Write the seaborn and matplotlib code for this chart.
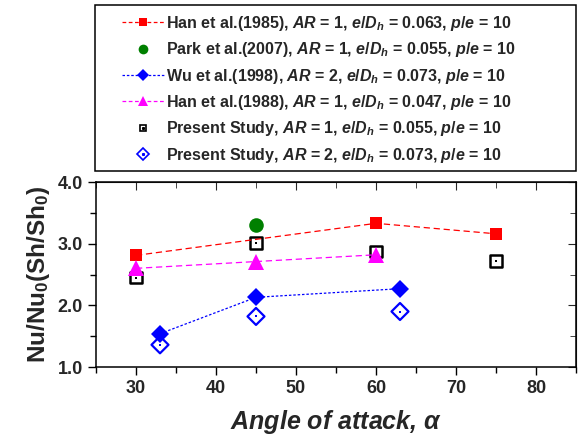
import numpy as np
import pandas as pd
import matplotlib
matplotlib.use("Agg")
import matplotlib.pyplot as plt
from matplotlib.lines import Line2D
from matplotlib.patches import Rectangle
from matplotlib.legend_handler import HandlerTuple
import seaborn as sns

# data
han85_x = [30, 60, 75]
han85_y = [2.81, 3.33, 3.16]
park_x = [45]
park_y = [3.30]
wu_x = [33, 45, 63]
wu_y = [1.54, 2.13, 2.27]
han88_x = [30, 45, 60]
han88_y = [2.60, 2.71, 2.82]
ps1_x = [30, 45, 60, 75]
ps1_y = [2.45, 3.01, 2.87, 2.72]
ps2_x = [33, 45, 63]
ps2_y = [1.36, 1.82, 1.90]

labels = [
    r"Han et al.(1985), $AR$ = 1, $e/D_h$ = 0.063, $p/e$ = 10",
    r"Park et al.(2007), $AR$ = 1, $e/D_h$ = 0.055, $p/e$ = 10",
    r"Wu et al.(1998), $AR$ = 2, $e/D_h$ = 0.073, $p/e$ = 10",
    r"Han et al.(1988), $AR$ = 1, $e/D_h$ = 0.047, $p/e$ = 10",
    r"Present Study, $AR$ = 1, $e/D_h$ = 0.055, $p/e$ = 10",
    r"Present Study, $AR$ = 2, $e/D_h$ = 0.073, $p/e$ = 10",
]

sns.set_style("ticks")
plt.rcParams["font.family"] = ["Liberation Sans", "DejaVu Sans"]
plt.rcParams["font.weight"] = "bold"
plt.rcParams["mathtext.fontset"] = "custom"
plt.rcParams["mathtext.rm"] = "Liberation Sans:bold"
plt.rcParams["mathtext.it"] = "Liberation Sans:bold:italic"
plt.rcParams["mathtext.bf"] = "Liberation Sans:bold"

fig = plt.figure(figsize=(5.79, 4.44), dpi=100)
ax = fig.add_axes([96 / 579, 1 - 367 / 444, 480 / 579, 185 / 444])

sns.lineplot(x=han85_x, y=han85_y, ax=ax, color="red", linestyle=(0, (5, 3)), lw=0.9,
             marker="s", markersize=9, markeredgewidth=0)
sns.lineplot(x=han88_x, y=han88_y, ax=ax, color="magenta", linestyle=(0, (5, 3)), lw=0.9,
             marker="^", markersize=11, markeredgewidth=0)
sns.lineplot(x=wu_x, y=wu_y, ax=ax, color="blue", linestyle=(0, (2, 1.5)), lw=0.9,
             marker="D", markersize=9, markeredgewidth=0)
sns.scatterplot(x=park_x, y=park_y, ax=ax, color="green", marker="o", s=110, linewidth=0)
sns.scatterplot(x=ps1_x, y=ps1_y, ax=ax, marker="s", s=70, facecolor="none",
                edgecolor="black", linewidth=1.8)
sns.scatterplot(x=ps1_x, y=ps1_y, ax=ax, marker="s", s=3, color="black", linewidth=0)
sns.scatterplot(x=ps2_x, y=ps2_y, ax=ax, marker="D", s=75, facecolor="none",
                edgecolor="blue", linewidth=1.6)
sns.scatterplot(x=ps2_x, y=ps2_y, ax=ax, marker="s", s=3, color="blue", linewidth=0)

ax.set_xlim(25, 85)
ax.set_ylim(1.0, 4.0)
ax.set_xticks(np.arange(30, 81, 10))
ax.set_xticks(np.arange(25, 86, 5), minor=True)
ax.set_yticks([1.0, 2.0, 3.0, 4.0])
ax.set_yticks(np.arange(1.0, 4.01, 0.5), minor=True)
ax.set_yticklabels(["1.0", "2.0", "3.0", "4.0"])
ax.tick_params(axis="both", which="both", direction="out", labelsize=13, width=1, color="black")
ax.tick_params(which="major", length=6)
ax.tick_params(which="minor", length=4)
for s in ax.spines.values():
    s.set_linewidth(1.1)
    s.set_color("black")

# mirrored ticks on top and right, pointing inward
axt = ax.secondary_xaxis("top")
axt.set_xticks(np.arange(30, 81, 10))
axt.set_xticks(np.arange(25, 86, 5), minor=True)
axt.tick_params(which="both", direction="in", labeltop=False)
axt.tick_params(which="major", length=6)
axt.tick_params(which="minor", length=4)
axr = ax.secondary_yaxis("right")
axr.set_yticks([1.0, 2.0, 3.0, 4.0])
axr.set_yticks(np.arange(1.0, 4.01, 0.5), minor=True)
axr.tick_params(which="both", direction="in", labelright=False)
axr.tick_params(which="major", length=6)
axr.tick_params(which="minor", length=4)

ax.set_xlabel(r"Angle of attack, $\alpha$", fontsize=18, fontweight="bold",
              fontstyle="italic", labelpad=8)
ax.set_ylabel(r"Nu/Nu$_0$(Sh/Sh$_0$)", fontsize=17.5, fontweight="bold", labelpad=4)

# legend above the axes
handles = [
    Line2D([], [], color="red", linestyle=(0, (3, 2)), lw=0.9, marker="s", markersize=6, markeredgewidth=0),
    Line2D([], [], color="green", linestyle="none", marker="o", markersize=7, markeredgewidth=0),
    Line2D([], [], color="blue", linestyle=(0, (2, 1.5)), lw=0.9, marker="D", markersize=6, markeredgewidth=0),
    Line2D([], [], color="magenta", linestyle=(0, (3, 2)), lw=0.9, marker="^", markersize=7, markeredgewidth=0),
    (Line2D([], [], color="black", linestyle="none", marker="s", markersize=5, markerfacecolor="none", markeredgewidth=1.2),
     Line2D([], [], color="black", linestyle="none", marker="s", markersize=1.2)),
    (Line2D([], [], color="blue", linestyle="none", marker="D", markersize=6, markerfacecolor="none", markeredgewidth=1.2),
     Line2D([], [], color="blue", linestyle="none", marker="s", markersize=1.2)),
]
fig.patches.append(Rectangle((95 / 579, 1 - 171 / 444), 481 / 579, 166 / 444,
                             transform=fig.transFigure, fill=False, edgecolor="black", lw=1.1))
fig.legend(handles, labels, loc="upper left", bbox_to_anchor=(122 / 579, 1 - 14 / 444),
           frameon=False, fontsize=11.5, handlelength=2.6, handletextpad=0.15,
           borderpad=0, borderaxespad=0, labelspacing=0.46,
           handler_map={tuple: HandlerTuple(ndivide=1, pad=0)})

fig.savefig("out.png", dpi=100)
